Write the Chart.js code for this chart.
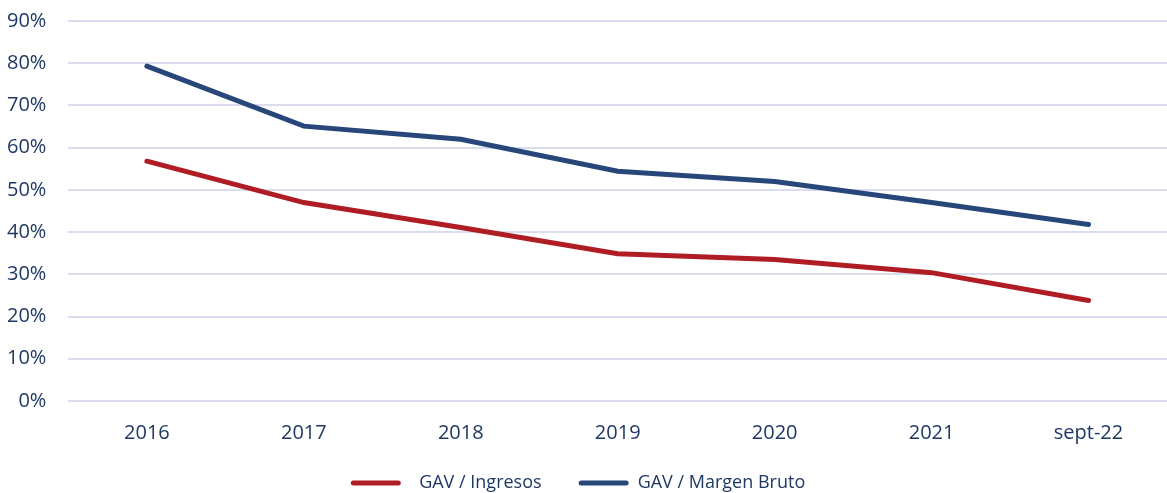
<!DOCTYPE html>
<html>
<head>
<meta charset="utf-8">
<script src="https://cdn.jsdelivr.net/npm/chart.js@4"></script>
<style>
  html, body { margin: 0; padding: 0; background: #fff; overflow: hidden; }
  #wrap { width: 1167px; height: 512px; position: absolute; left: 0; top: -13px; }
</style>
</head>
<body>
<div id="wrap"><canvas id="gavChart"></canvas></div>
<script>
// data
const categories = ['2016', '2017', '2018', '2019', '2020', '2021', 'sept-22'];
const gavIngresos = [56.8, 47.0, 41.1, 34.9, 33.5, 30.4, 23.8];
const gavMargenBruto = [79.3, 65.1, 62.0, 54.4, 52.0, 47.0, 41.8];
const yTicks = [0, 10, 20, 30, 40, 50, 60, 70, 80, 90];

const textColor = '#1F3864';
const red = '#B01C24';
const blue = '#27477A';

const ctx = document.getElementById('gavChart').getContext('2d');
new Chart(ctx, {
    type: 'line',
    data: {
        labels: categories,
        datasets: [
            {
                label: 'GAV / Ingresos',
                data: gavIngresos,
                borderColor: red,
                backgroundColor: red,
                borderWidth: 5,
                pointRadius: 0,
                borderCapStyle: 'round',
                tension: 0
            },
            {
                label: 'GAV / Margen Bruto',
                data: gavMargenBruto,
                borderColor: blue,
                backgroundColor: blue,
                borderWidth: 5,
                pointRadius: 0,
                borderCapStyle: 'round',
                tension: 0
            }
        ]
    },
    options: {
        responsive: true,
        maintainAspectRatio: false,
        animation: false,
        layout: { padding: { top: 0, right: -4, left: -15, bottom: -3 } },
        plugins: {
            tooltip: { enabled: false },
            legend: {
                position: 'bottom',
                labels: {
                    color: textColor,
                    font: { family: 'Open Sans', size: 18 },
                    boxWidth: 50,
                    boxHeight: 5,
                    useBorderRadius: true,
                    borderRadius: 2.5,
                    padding: 9,
                    generateLabels: chart => {
                        const items = Chart.defaults.plugins.legend.labels.generateLabels(chart);
                        items.forEach((item, i) => {
                            item.lineWidth = 0;
                            // the first entry has wider gaps in the original legend
                            if (i === 0) item.text = '\u00a0\u00a0' + item.text + '\u00a0\u00a0\u00a0\u00a0\u00a0\u00a0';
                        });
                        return items;
                    }
                }
            }
        },
        scales: {
            y: {
                min: 0,
                max: 90,
                afterBuildTicks: axis => {
                    axis.ticks = yTicks.map(v => ({ value: v }));
                },
                border: { display: false },
                grid: { color: '#DADDF0', lineWidth: 2, drawTicks: false },
                ticks: {
                    color: textColor,
                    font: { family: 'Open Sans', size: 20 },
                    padding: 22,
                    callback: value => value + '%'
                }
            },
            x: {
                offset: true,
                border: { display: false },
                grid: { display: false, drawTicks: false },
                ticks: {
                    color: textColor,
                    font: { family: 'Open Sans', size: 20 },
                    padding: 20
                }
            }
        }
    }
});
</script>
</body>
</html>
